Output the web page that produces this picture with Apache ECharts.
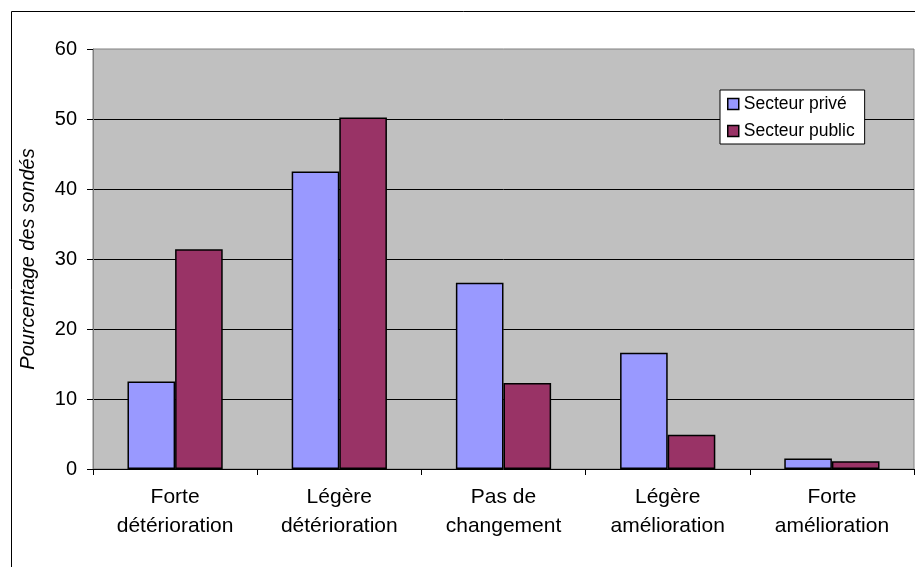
<!DOCTYPE html>
<html>
<head>
<meta charset="utf-8">
<script src="https://cdn.jsdelivr.net/npm/echarts@6/dist/echarts.min.js"></script>
<style>
html,body{margin:0;padding:0;background:#fff;}
#chart{width:915px;height:567px;}
</style>
</head>
<body>
<div id="chart"></div>
<script>
const categories = ['Forte\ndétérioration', 'Légère\ndétérioration', 'Pas de\nchangement', 'Légère\namélioration', 'Forte\namélioration'];
const seriesNames = ['Secteur privé', 'Secteur public'];
const prive = [12.5, 42.5, 26.6, 16.6, 1.5];
const publicVals = [31.4, 50.2, 12.3, 4.9, 1.1];
const yTicks = [0, 10, 20, 30, 40, 50, 60];

const colors = ['#9999FF', '#993366'];
const font = 'Arial, "Liberation Sans", sans-serif';

const chart = echarts.init(document.getElementById('chart'), null, {renderer: 'canvas'});
chart.setOption({
  animation: false,
  backgroundColor: '#ffffff',
  graphic: [{
    type: 'rect',
    left: 9, top: 9,
    shape: {x: 0.5, y: 0.5, width: 1000, height: 1000},
    style: {fill: 'none', stroke: '#000', lineWidth: 1},
    silent: true, z: -1
  }],
  grid: {
    left: 93, top: 49, right: 1, bottom: 98,
    show: true,
    backgroundColor: '#C0C0C0',
    borderColor: '#808080',
    borderWidth: 1,
    outerBoundsMode: 'none'
  },
  legend: {
    orient: 'vertical',
    left: 720, top: 90,
    padding: [4, 10, 3, 7],
    itemGap: 7,
    itemWidth: 11, itemHeight: 11,
    backgroundColor: '#ffffff',
    borderColor: '#000000',
    borderWidth: 1,
    textStyle: {fontFamily: font, fontSize: 17.5, color: '#000', lineHeight: 20},
    data: seriesNames.map((n, i) => ({name: n, icon: 'rect', itemStyle: {color: colors[i], borderColor: '#000', borderWidth: 1.5}}))
  },
  xAxis: {
    type: 'category',
    data: categories,
    axisLine: {show: true, lineStyle: {color: '#000', width: 1}},
    axisTick: {show: true, alignWithLabel: false, length: 6, lineStyle: {color: '#000'}},
    axisLabel: {fontFamily: font, fontSize: 21, color: '#000', lineHeight: 29, margin: 14, interval: 0},
    splitLine: {show: false}
  },
  yAxis: {
    type: 'value',
    min: yTicks[0], max: yTicks[yTicks.length - 1], interval: 10,
    name: 'Pourcentage des sondés',
    nameLocation: 'middle',
    nameRotate: 90,
    nameGap: 55,
    nameTextStyle: {fontFamily: font, fontSize: 20, fontStyle: 'italic', color: '#000'},
    axisLine: {show: true, lineStyle: {color: '#808080', width: 1}},
    axisTick: {show: true, length: 6, lineStyle: {color: '#000'}},
    axisLabel: {fontFamily: font, fontSize: 20, color: '#000', margin: 16},
    splitLine: {show: true, showMaxLine: false, showMinLine: false, lineStyle: {color: '#000', width: 1}}
  },
  series: [
    {
      name: seriesNames[0], type: 'bar', data: prive,
      barGap: '0%', barCategoryGap: '42%',
      itemStyle: {color: colors[0], borderColor: '#000', borderWidth: 1.5}
    },
    {
      name: seriesNames[1], type: 'bar', data: publicVals,
      barGap: '0%', barCategoryGap: '42%',
      itemStyle: {color: colors[1], borderColor: '#000', borderWidth: 1.5}
    }
  ]
});
</script>
</body>
</html>
